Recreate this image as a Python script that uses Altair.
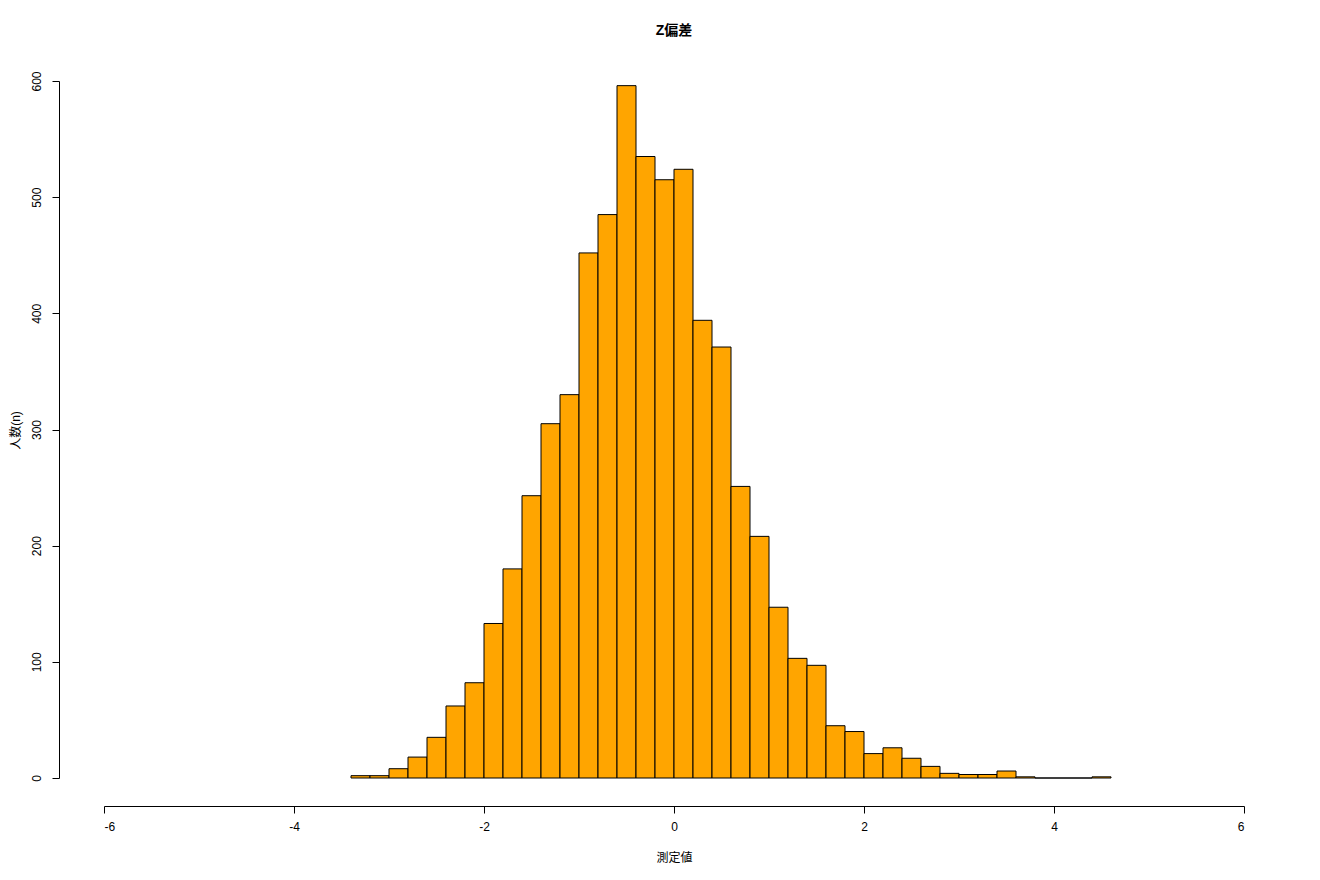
import altair as alt
import pandas as pd

bin_start = [-3.4, -3.2, -3.0, -2.8, -2.6, -2.4, -2.2, -2.0, -1.8, -1.6, -1.4, -1.2, -1.0, -0.8,
             -0.6, -0.4, -0.2, 0.0, 0.2, 0.4, 0.6, 0.8, 1.0, 1.2, 1.4, 1.6, 1.8, 2.0, 2.2, 2.4,
             2.6, 2.8, 3.0, 3.2, 3.4, 3.6, 3.8, 4.0, 4.2, 4.4]
counts = [2, 2, 8, 18, 35, 62, 82, 133, 180, 243, 305, 330, 452, 485,
          596, 535, 515, 524, 394, 371, 251, 208, 147, 103, 97, 45, 40, 21, 26, 17,
          10, 4, 3, 3, 6, 1, 0, 0, 0, 1]
bin_width = 0.2
x_ticks = [-6, -4, -2, 0, 2, 4, 6]
y_ticks = [0, 100, 200, 300, 400, 500, 600]

df = pd.DataFrame({
    "start": bin_start,
    "end": [round(s + bin_width, 2) for s in bin_start],
    "count": counts,
})

FONT = "Liberation Sans, Arial, Noto Sans CJK JP"

chart = alt.Chart(df).mark_rect(
    fill="#FFA500", stroke="black", strokeWidth=1
).encode(
    x=alt.X("start:Q",
            scale=alt.Scale(domain=[-6, 6], nice=False, zero=False),
            axis=alt.Axis(values=x_ticks, title="測定値", offset=28, grid=False,
                          tickSize=7, tickColor="black", domainColor="black",
                          labelColor="black", labelFontSize=12, labelPadding=8,
                          labelExpr="'' + datum.value",
                          titleFontSize=12, titleFontWeight="normal", titleColor="black",
                          titleY=51, titleBaseline="middle", labelFont=FONT, titleFont=FONT)),
    x2="end:Q",
    y=alt.Y("count:Q",
            scale=alt.Scale(domain=[0, 600], nice=False),
            axis=alt.Axis(values=y_ticks, title="人数(n)", offset=45, grid=False,
                          tickSize=7, tickColor="black", domainColor="black",
                          labelColor="black", labelFontSize=12, labelAngle=270,
                          labelAlign="center", labelBaseline="bottom", labelPadding=9,
                          titleFontSize=12, titleFontWeight="normal", titleColor="black",
                          titleAngle=270, titleX=-44, titleY=349, titleAlign="center",
                          titleBaseline="middle", labelFont=FONT, titleFont=FONT)),
    y2=alt.datum(0),
).properties(
    width=1140,
    height=697,
    title=alt.TitleParams("Z偏差", fontSize=14, fontWeight="bold", color="black",
                          font=FONT, anchor="middle", offset=33),
    autosize=alt.AutoSizeParams(type="none"),
    padding={"left": 96, "top": 73, "right": 60, "bottom": 90},
).configure_view(stroke=None)

chart.save("out.html", embed_options={"renderer": "svg", "actions": False})
